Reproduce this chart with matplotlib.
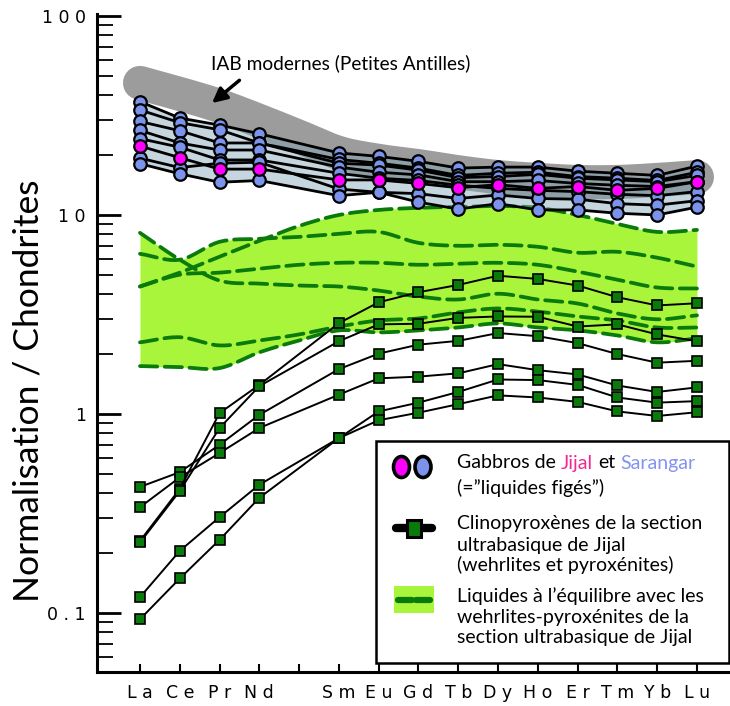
import numpy as np
import matplotlib
matplotlib.use('Agg')
import matplotlib.pyplot as plt
from matplotlib.patches import Rectangle, Ellipse
from matplotlib.lines import Line2D
from matplotlib.ticker import FixedLocator, LogLocator, NullFormatter
from matplotlib.font_manager import FontProperties

W, H = 730, 706

# ---------------- data ----------------
ree_all = ['La', 'Ce', 'Pr', 'Nd', 'Pm', 'Sm', 'Eu', 'Gd', 'Tb', 'Dy', 'Ho', 'Er', 'Tm', 'Yb', 'Lu']
ree_meas = ['La', 'Ce', 'Pr', 'Nd', 'Sm', 'Eu', 'Gd', 'Tb', 'Dy', 'Ho', 'Er', 'Tm', 'Yb', 'Lu']
ytick_values = [0.1, 1, 10, 100]
ytick_labels = ['0.1', '1', '10', '100']

# IAB modernes (Petites Antilles) field - centre line (La..Lu incl. Pm)
iab_mid = [46.1, 40.6, 35.3, 29.7, 24.7, 20.5, 18.7, 17.6, 16.4, 15.5, 15.0, 14.65, 14.65, 15.0, 15.5]

# Gabbros de Sarangar (blue)
sarangar_1 = [37.1, 30.7, 28.3, 25.6, 20.5, 19.7, 18.6, 17.2, 17.4, 17.4, 16.6, 16.2, 15.8, 17.6]
sarangar_2 = [33.7, 29.1, 26.8, 23.0, 19.0, 18.2, 17.2, 15.8, 16.2, 16.4, 15.6, 15.3, 14.9, 16.4]
sarangar_3 = [29.5, 26.5, 23.0, 23.0, 18.2, 17.8, 16.8, 15.4, 15.6, 16.0, 15.3, 15.0, 14.7, 15.8]
sarangar_4 = [26.6, 23.0, 21.2, 21.2, 17.4, 16.4, 15.9, 14.7, 14.7, 14.9, 14.4, 14.1, 13.9, 14.7]
sarangar_5 = [24.2, 21.9, 18.9, 18.9, 16.2, 15.3, 14.9, 14.1, 13.6, 13.3, 13.1, 12.7, 12.5, 13.1]
sarangar_6 = [19.3, 17.3, 18.2, 18.4, 13.5, 13.0, 12.8, 12.1, 12.6, 12.1, 12.0, 11.4, 11.2, 11.8]
sarangar_7 = [18.1, 16.1, 14.6, 14.9, 12.5, 13.0, 11.6, 10.7, 11.4, 10.6, 10.6, 10.2, 10.0, 10.95]
# Gabbro de Jijal (magenta)
jijal_1 = [22.2, 19.4, 17.0, 17.0, 15.0, 15.0, 14.4, 13.7, 14.2, 13.6, 13.9, 13.3, 13.6, 14.7]

# Clinopyroxenes (ultrabasic section of Jijal)
cpx_1 = [0.43, 0.51, 0.70, 0.99, 1.68, 2.01, 2.23, 2.33, 2.55, 2.46, 2.27, 2.00, 1.81, 1.85]
cpx_2 = [0.34, 0.48, 0.636, 0.85, 1.25, 1.51, 1.54, 1.60, 1.78, 1.66, 1.58, 1.39, 1.29, 1.36]
cpx_3 = [0.23, 0.42, 1.01, 1.40, 2.86, 3.64, 4.09, 4.45, 4.95, 4.77, 4.42, 3.86, 3.51, 3.60]
cpx_4 = [0.226, 0.41, 0.85, 1.38, 2.32, 2.82, 2.84, 3.04, 3.09, 3.08, 2.75, 2.82, 2.51, 2.32]
cpx_5 = [0.12, 0.205, 0.303, 0.441, 0.756, 1.03, 1.14, 1.29, 1.49, 1.48, 1.40, 1.21, 1.14, 1.16]
cpx_6 = [0.093, 0.149, 0.233, 0.379, 0.756, 0.93, 1.015, 1.12, 1.24, 1.21, 1.15, 1.03, 0.977, 1.02]

# Liquids in equilibrium (La..Lu incl. Pm)
liq_1 = [4.37, 5.13, 6.17, 7.41, 8.81, 10.0, 10.6, 10.86, 10.99, 11.1, 10.86, 10.0, 9.02, 8.22, 8.41]
liq_2 = [6.38, 5.96, 7.33, 7.59, 7.76, 8.04, 8.22, 7.24, 7.00, 7.08, 6.92, 6.46, 6.53, 6.10, 5.50]
liq_3 = [8.13, 5.96, 4.68, 4.52, 4.42, 4.37, 4.17, 3.89, 3.76, 4.02, 3.76, 3.59, 3.20, 2.99, 3.13]
liq_4 = [4.37, 5.01, 5.13, 5.37, 5.62, 5.75, 5.75, 5.62, 5.69, 5.75, 5.62, 5.19, 4.73, 4.32, 4.27]
liq_5 = [2.29, 2.43, 2.21, 2.34, 2.51, 2.75, 2.95, 3.02, 3.24, 3.39, 3.27, 3.09, 2.95, 2.72, 2.72]
liq_6 = [1.74, 1.72, 1.70, 2.04, 2.34, 2.63, 2.57, 2.63, 2.72, 2.85, 2.72, 2.63, 2.48, 2.29, 2.40]

sarangar = [sarangar_1, sarangar_2, sarangar_3, sarangar_4, sarangar_5, sarangar_6, sarangar_7]
jijal = [jijal_1]
cpx = [cpx_1, cpx_2, cpx_3, cpx_4, cpx_5, cpx_6]
liquids = [liq_1, liq_2, liq_3, liq_4, liq_5, liq_6]

# ---------------- style ----------------
GREEN_D = '#0a7a0a'
LIME = '#a8f53c'
BLUE = '#7b93ea'
MAGENTA = '#ff00ff'
GRAY = '#9c9c9c'
TXT_FONT = ['Lato', 'DejaVu Sans']

x_all = np.arange(len(ree_all), dtype=float)
x_meas = np.array([ree_all.index(r) for r in ree_meas], dtype=float)


def smooth(xv, vals, n=16):
    """cubic Hermite (Catmull-Rom) curve through the points, in log space"""
    ly = np.log10(np.asarray(vals, dtype=float))
    m = np.gradient(ly, xv)
    xs, ys = [], []
    for i in range(len(ly) - 1):
        t = np.linspace(0, 1, n, endpoint=False)
        h = xv[i + 1] - xv[i]
        h00 = 2 * t**3 - 3 * t**2 + 1
        h10 = t**3 - 2 * t**2 + t
        h01 = -2 * t**3 + 3 * t**2
        h11 = t**3 - t**2
        ys.append(h00 * ly[i] + h10 * h * m[i] + h01 * ly[i + 1] + h11 * h * m[i + 1])
        xs.append(xv[i] + t * h)
    xs.append([xv[-1]])
    ys.append([ly[-1]])
    return np.concatenate(xs), 10 ** np.concatenate(ys)


fig = plt.figure(figsize=(W / 100, H / 100), dpi=100)
ax = fig.add_axes([97 / W, 1 - 672 / H, 1 - 97 / W, (672 - 14) / H])
ax.set_yscale('log')
ax.set_ylim(0.0505, 102.3)
ax.set_xlim(-1.08, 14.83)

# --- liquids field ---
curves = [smooth(x_all, v) for v in liquids]
xs = curves[0][0]
ys = np.array([c[1] for c in curves])
ax.fill_between(xs, ys.min(axis=0), ys.max(axis=0), color=LIME, lw=0, zorder=1)
for cx, cy in curves:
    ax.plot(cx, cy, color=GREEN_D, lw=2.7, ls=(0, (4.6, 2.0)),
            dash_capstyle='round', zorder=2)

# --- IAB band ---
bx, by = smooth(x_all, iab_mid)
ax.plot(bx, by, color=GRAY, lw=24.5, solid_capstyle='round',
        solid_joinstyle='round', zorder=3)

# --- gabbros ---
gab_all = np.array(sarangar + jijal)
ax.fill_between(x_meas, gab_all.min(axis=0), gab_all.max(axis=0),
                color='#7fa4b6', alpha=0.45, lw=0, zorder=4)
for g in sarangar + jijal:
    ax.plot(x_meas, g, color='k', lw=2.0, zorder=5)
for g in sarangar:
    ax.plot(x_meas, g, ls='none', marker='o', ms=9, mfc=BLUE, mec='k', mew=1.6, zorder=6)
for g in jijal:
    ax.plot(x_meas, g, ls='none', marker='o', ms=9, mfc=MAGENTA, mec='k', mew=1.6, zorder=7)

# --- clinopyroxenes ---
for c in cpx:
    ax.plot(x_meas, c, color='k', lw=1.4, marker='s', ms=7, mfc=GREEN_D, mec='k',
            mew=1.2, zorder=8)

# --- axes styling ---
for s in ['top', 'right']:
    ax.spines[s].set_visible(False)
for s in ['left', 'bottom']:
    ax.spines[s].set_linewidth(2.2)

ax.yaxis.set_major_locator(FixedLocator(ytick_values))
ax.set_yticklabels([' '.join(t) for t in ytick_labels], fontsize=12.5,
                   family='DejaVu Sans')
ax.yaxis.set_minor_locator(LogLocator(base=10, subs=np.arange(2, 10)))
ax.yaxis.set_minor_formatter(NullFormatter())
ax.tick_params(axis='y', which='major', direction='in', length=17, width=2.0, pad=8)
ax.tick_params(axis='y', which='minor', direction='in', length=11.5, width=1.3)

ax.xaxis.set_major_locator(FixedLocator(x_all))
ax.set_xticklabels([' '.join(r) if r in ree_meas else '' for r in ree_all],
                   fontsize=12.5, family='DejaVu Sans')
ax.tick_params(axis='x', which='major', direction='in', length=6, width=1.5, pad=9)

fig.text(29 / W, 1 - 391 / H, 'Normalisation / Chondrites', rotation=90,
         ha='center', va='center', fontsize=25.5, family=TXT_FONT)

# --- annotation ---
ax.annotate('', xy=(1.81, 36.5), xytext=(2.5, 47.5),
            arrowprops=dict(arrowstyle='-|>', color='k', lw=2.5, mutation_scale=22,
                            shrinkA=0, shrinkB=0), zorder=9)
ax.text(5.05, 58.0, 'IAB modernes (Petites Antilles)', ha='center', va='center',
        fontsize=13.8, family=TXT_FONT, zorder=9)


# --- legend (figure pixel coordinates) ---
def fx(px):
    return px / W


def fy(py):
    return 1 - py / H


tf = fig.transFigure
fig.add_artist(Rectangle((fx(376), fy(663)), (729 - 376) / W, (663 - 441) / H,
                         transform=tf, facecolor='white', edgecolor='k', lw=1.8, zorder=10))
# gabbros symbol
fig.add_artist(Ellipse((fx(401.5), fy(467)), 16 / W, 21 / H, transform=tf,
                       facecolor=MAGENTA, edgecolor='k', lw=2.6, zorder=11))
fig.add_artist(Ellipse((fx(423), fy(467)), 16 / W, 21 / H, transform=tf,
                       facecolor=BLUE, edgecolor='k', lw=2.6, zorder=11))
# cpx symbol
fig.add_artist(Line2D([fx(396), fx(432)], [fy(528), fy(528)], transform=tf, color='k',
                      lw=6, solid_capstyle='round', zorder=11))
fig.add_artist(Rectangle((fx(407), fy(537)), 14 / W, 17 / H, transform=tf,
                         facecolor=GREEN_D, edgecolor='k', lw=2.2, zorder=12))
# liquids symbol
fig.add_artist(Rectangle((fx(394), fy(613)), 40 / W, 27 / H, transform=tf,
                         facecolor=LIME, edgecolor='none', zorder=11))
for a, b in [(398, 412), (416, 430)]:
    fig.add_artist(Line2D([fx(a), fx(b)], [fy(600), fy(600)], transform=tf,
                          color=GREEN_D, lw=4.5, solid_capstyle='round', zorder=12))

LEG_FS = 14.0
renderer = fig.canvas.get_renderer()
fp = FontProperties(family=TXT_FONT, size=LEG_FS)


def width_px(s):
    w, h, d = renderer.get_text_width_height_descent(s, fp, ismath=False)
    return w


def colored_line(x0, y0, pieces):
    prefix = ''
    for s, col in pieces:
        full = prefix + s
        word = s.strip()
        xpos = x0 + width_px(full) - width_px(word)
        fig.text(fx(xpos), fy(y0), word, color=col, ha='left', va='center',
                 fontproperties=fp, zorder=12)
        prefix = full


colored_line(457, 463, [('Gabbros de', 'k'), (' Jijal', '#f2288e'), (' et', 'k'),
                        (' Sarangar', '#8393f0')])
leg_lines = [(488, '(=\u201dliquides figés\u201d)'),
             (524, 'Clinopyroxènes de la section'),
             (545, 'ultrabasique de Jijal'),
             (565, '(wehrlites et pyroxénites)'),
             (596, 'Liquides à l\u2019équilibre avec les'),
             (617, 'wehrlites-pyroxénites de la'),
             (637, 'section ultrabasique de Jijal')]
for yy, s in leg_lines:
    fig.text(fx(457), fy(yy), s, ha='left', va='center', fontproperties=fp, zorder=12)

fig.savefig('out.png', dpi=100)
